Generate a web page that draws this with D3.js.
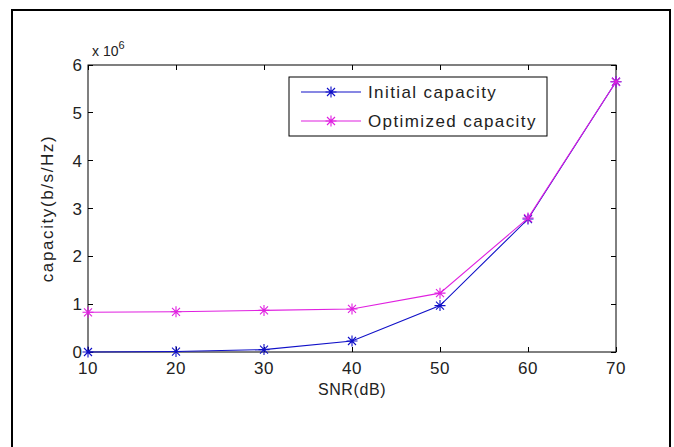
<!DOCTYPE html>
<html>
<head>
<meta charset="utf-8">
<script src="https://cdn.jsdelivr.net/npm/d3@7"></script>
<style>
  body { margin: 0; background: #fff; }
  text { font-family: "Liberation Sans", Arial, sans-serif; fill: #222; }
</style>
</head>
<body>
<svg id="chart" width="674" height="447"></svg>
<script>
// SNR values (dB)
const snr = [10, 20, 30, 40, 50, 60, 70];
// capacity in units of 1e6 b/s/Hz
const initialCapacity = [0.0, 0.01, 0.05, 0.23, 0.97, 2.78, 5.65];
const optimizedCapacity = [0.83, 0.84, 0.87, 0.90, 1.23, 2.80, 5.65];
const xTicks = [10, 20, 30, 40, 50, 60, 70];
const yTicks = [0, 1, 2, 3, 4, 5, 6];
const seriesNames = ["Initial capacity", "Optimized capacity"];
const seriesColors = ["#1010c8", "#e020e0"];

const svg = d3.select("#chart");

// outer figure frame (bottom edge is cut off in the picture)
svg.append("rect")
    .attr("x", 12).attr("y", 10)
    .attr("width", 658).attr("height", 460)
    .attr("fill", "none")
    .attr("stroke", "#000")
    .attr("stroke-width", 2);

const plot = { left: 88, right: 616, top: 65, bottom: 352 };

const x = d3.scaleLinear().domain([10, 70]).range([plot.left, plot.right]);
const y = d3.scaleLinear().domain([0, 6]).range([plot.bottom, plot.top]);

// axes box
svg.append("rect")
    .attr("x", plot.left).attr("y", plot.top)
    .attr("width", plot.right - plot.left)
    .attr("height", plot.bottom - plot.top)
    .attr("fill", "#fff")
    .attr("stroke", "#000")
    .attr("stroke-width", 1);

// ticks inward on all four sides, like matlab
const tickLen = 5;
const g = svg.append("g");
g.selectAll(".xt").data(xTicks).enter().append("path")
    .attr("d", d => `M${x(d)},${plot.bottom}v${-tickLen}M${x(d)},${plot.top}v${tickLen}`)
    .attr("stroke", "#000").attr("shape-rendering", "crispEdges");
g.selectAll(".yt").data(yTicks).enter().append("path")
    .attr("d", d => `M${plot.left},${y(d)}h${tickLen}M${plot.right},${y(d)}h${-tickLen}`)
    .attr("stroke", "#000").attr("shape-rendering", "crispEdges");

g.selectAll(".xl").data(xTicks).enter().append("text")
    .attr("x", d => x(d)).attr("y", plot.bottom + 22)
    .attr("text-anchor", "middle")
    .attr("font-size", 17)
    .attr("letter-spacing", 0.5)
    .text(d => d);
g.selectAll(".yl").data(yTicks).enter().append("text")
    .attr("x", plot.left - 6).attr("y", d => y(d) + 6)
    .attr("text-anchor", "end")
    .attr("font-size", 17)
    .text(d => d);

// exponent label
const ex = svg.append("text").attr("x", plot.left + 4).attr("y", plot.top - 9).attr("font-size", 14);
ex.append("tspan").text("x 10");
ex.append("tspan").attr("dy", -7).attr("font-size", 11).text("6");

svg.append("text")
    .attr("x", (plot.left + plot.right) / 2).attr("y", plot.bottom + 43)
    .attr("text-anchor", "middle").attr("font-size", 16)
    .attr("letter-spacing", 0.6)
    .text("SNR(dB)");
svg.append("text")
    .attr("transform", `translate(${plot.left - 35},${(plot.top + plot.bottom) / 2}) rotate(-90)`)
    .attr("text-anchor", "middle").attr("font-size", 17)
    .attr("letter-spacing", 1.6)
    .text("capacity(b/s/Hz)");

// star marker: + and x overlaid
function star(sel, cx, cy, color) {
    const r = 5.5, d = 4;
    sel.append("path")
        .attr("d", `M${cx - r},${cy}H${cx + r}M${cx},${cy - r}V${cy + r}M${cx - d},${cy - d}L${cx + d},${cy + d}M${cx - d},${cy + d}L${cx + d},${cy - d}`)
        .attr("stroke", color).attr("stroke-width", 1.1).attr("fill", "none");
}

const line = d3.line().x(d => x(d[0])).y(d => y(d[1]));
[initialCapacity, optimizedCapacity].forEach((vals, i) => {
    const pts = snr.map((s, j) => [s, vals[j]]);
    const sg = svg.append("g");
    sg.append("path")
        .attr("d", line(pts))
        .attr("fill", "none")
        .attr("stroke", seriesColors[i])
        .attr("stroke-width", 1.1);
    pts.forEach(p => star(sg, x(p[0]), y(p[1]), seriesColors[i]));
});

// legend
const lg = svg.append("g");
const lx = 289, ly = 77, lw = 258, lh = 59;
lg.append("rect")
    .attr("x", lx).attr("y", ly).attr("width", lw).attr("height", lh)
    .attr("fill", "#fff").attr("stroke", "#000").attr("stroke-width", 1);
seriesNames.forEach((name, i) => {
    const yy = ly + 15 + i * 29;
    lg.append("line")
        .attr("x1", lx + 12).attr("x2", lx + 72)
        .attr("y1", yy).attr("y2", yy)
        .attr("stroke", seriesColors[i]).attr("stroke-width", 1.1);
    star(lg, lx + 42, yy, seriesColors[i]);
    lg.append("text")
        .attr("x", lx + 79).attr("y", yy + 6)
        .attr("font-size", 17)
        .attr("letter-spacing", 1.4)
        .text(name);
});
</script>
</body>
</html>
